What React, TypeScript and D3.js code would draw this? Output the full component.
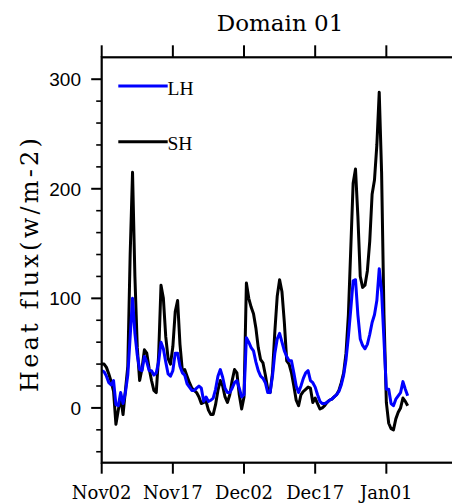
import React from "react";
import * as d3 from "d3";

// ---- Data (half-day steps starting Nov02) ----
const TITLE = "Domain 01";
const Y_LABEL = "Heat flux(w/m-2)";
const SERIES_NAMES = ["LH", "SH"];
const X_TICK_DAYS = [0, 15, 30, 45, 60];
const X_TICK_LABELS = ["Nov02", "Nov17", "Dec02", "Dec17", "Jan01"];
const Y_MAJOR_TICKS = [0, 100, 200, 300];
const Y_MINOR_TICKS = [-40, -20, 20, 40, 60, 80, 120, 140, 160, 180, 220, 240, 260, 280];
const STEP_DAYS = 0.5;

const SH = [
  40, 40, 37, 31, 24, 15, -15, -2, 10, -6,
  16, 38, 140, 215, 120, 55, 25, 36, 53, 50,
  36, 25, 16, 14, 48, 112, 100, 65, 45, 40,
  56, 88, 98, 58, 34, 35, 29, 23, 18, 16,
  14, 10, 4, 5, 6, -2, -6, -6, 3, 16,
  25, 20, 10, 5, 12, 25, 35, 32, 12, -1,
  10, 114, 100, 92, 86, 73, 55, 44, 41, 30,
  17, 14, 32, 70, 102, 117, 106, 78, 43, 40,
  32, 20, 7, 2, 12, 15, 17, 19, 18, 5,
  9, 4, -1, 0, 2, 5, 7, 8, 10, 12,
  16, 23, 32, 50, 85, 145, 205, 218, 175, 120,
  110, 112, 125, 152, 195, 208, 240, 288, 215, 85,
  5, -14, -19, -20, -10, -4, 0, 9, 6, 2,
];

const LH = [
  34, 33, 29, 23, 21, 25, 3, 2, 14, 4,
  14, 30, 65, 100, 68, 48, 35, 34, 47, 42,
  34, 34, 30, 32, 42, 60, 54, 42, 31, 29,
  34, 50, 50, 38, 32, 30, 22, 19, 16, 16,
  18, 20, 18, 6, 10, 6, 7, 9, 17, 29,
  35, 28, 18, 14, 14, 18, 23, 25, 18, 10,
  12, 64, 60, 55, 52, 42, 34, 29, 27, 23,
  14, 14, 29, 50, 63, 68, 60, 52, 47, 43,
  43, 32, 20, 14, 20, 27, 32, 34, 25, 23,
  19, 12, 6, 4, 4, 5, 7, 8, 10, 12,
  15, 21, 30, 44, 65, 90, 116, 117, 85, 63,
  57, 54, 58, 67, 78, 85, 98, 127, 106, 62,
  17, 17, 4, 2, 8, 11, 14, 24, 17, 11,
];

const SERIF = "'DejaVu Serif', serif";
const SANS = "'Liberation Sans', Arial, sans-serif";

export default function App() {
  const left = 101.7;
  const right = 457.5;
  const top = 57.3;
  const bottom = 462.7;
  const x = d3.scaleLinear().domain([0, 75]).range([left, right]);
  const y = d3.scaleLinear().domain([-50, 320]).range([bottom, top]);

  const days = LH.map((_, i) => i * STEP_DAYS);
  const line = d3
    .line<number>()
    .x((_, i) => x(days[i]))
    .y((d) => y(d));

  const legend = [
    { name: SERIES_NAMES[0], color: "#0000ff", yy: 86 },
    { name: SERIES_NAMES[1], color: "#000000", yy: 141.7 },
  ];

  return (
    <svg
      width={452}
      height={503}
      style={{ position: "absolute", left: 0, top: 0, background: "#fff" }}
    >
      <rect x={0} y={0} width={452} height={503} fill="#fff" />
      {/* Title */}
      <text x={280} y={30.7} textAnchor="middle" fontFamily={SERIF} fontSize={23} fill="#000">
        {TITLE}
      </text>

      {/* Data lines */}
      <path d={line(SH) || ""} fill="none" stroke="#000" strokeWidth={3} strokeLinejoin="round" />
      <path d={line(LH) || ""} fill="none" stroke="#0000ff" strokeWidth={3} strokeLinejoin="round" />

      {/* Frame */}
      <rect x={left} y={top} width={right - left} height={bottom - top} fill="none" stroke="#000" strokeWidth={2.2} />

      {/* Y ticks */}
      {Y_MAJOR_TICKS.map((v) => (
        <g key={"ym" + v}>
          <line x1={left - 10.5} x2={left} y1={y(v)} y2={y(v)} stroke="#000" strokeWidth={2} />
          <text x={81} y={y(v)} dy="0.36em" textAnchor="end" fontFamily={SANS} fontSize={19} fill="#000">
            {v}
          </text>
        </g>
      ))}
      {Y_MINOR_TICKS.map((v) => (
        <line key={"yn" + v} x1={left - 5.5} x2={left} y1={y(v)} y2={y(v)} stroke="#000" strokeWidth={1.6} />
      ))}

      {/* X ticks top and bottom */}
      {X_TICK_DAYS.map((d, i) => (
        <g key={"x" + d}>
          <line x1={x(d)} x2={x(d)} y1={top} y2={top - 12} stroke="#000" strokeWidth={2} />
          <line x1={x(d)} x2={x(d)} y1={bottom} y2={bottom + 11} stroke="#000" strokeWidth={2} />
          <text x={x(d)} y={499.3} textAnchor="middle" fontFamily={SERIF} fontSize={18} fill="#000">
            {X_TICK_LABELS[i]}
          </text>
        </g>
      ))}

      {/* Y label */}
      <text
        transform="translate(38,263.5) rotate(-90)"
        textAnchor="middle"
        fontFamily={SERIF}
        fontSize={24}
        letterSpacing={3.2}
        fill="#000"
      >
        {Y_LABEL}
      </text>

      {/* Legend */}
      {legend.map((l) => (
        <g key={l.name}>
          <line x1={118.3} x2={167.7} y1={l.yy} y2={l.yy} stroke={l.color} strokeWidth={3} />
          <text x={167.5} y={l.yy + 8.5} fontFamily="'Liberation Serif', serif" fontSize={19.5} fill="#000">
            {l.name}
          </text>
        </g>
      ))}
    </svg>
  );
}
